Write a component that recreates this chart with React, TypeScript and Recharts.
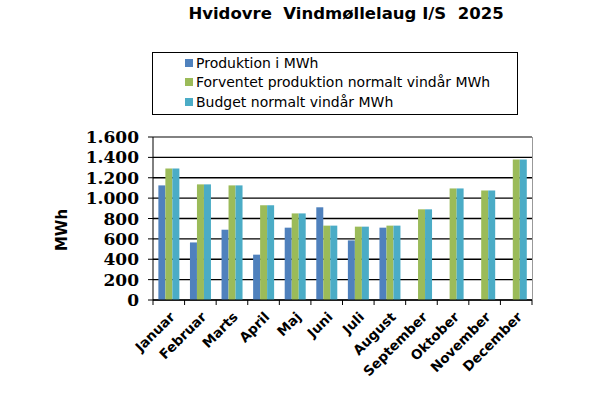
import React from "react";
import { BarChart, Bar, XAxis, YAxis, CartesianGrid, ReferenceLine } from "recharts";

const months = ["Januar", "Februar", "Marts", "April", "Maj", "Juni", "Juli", "August", "September", "Oktober", "November", "December"];
const produktion = [1125, 565, 690, 445, 710, 910, 585, 710, null, null, null, null];
const forventet = [1290, 1135, 1125, 930, 850, 730, 720, 730, 890, 1095, 1075, 1380];
const budget = [1290, 1135, 1125, 930, 850, 730, 720, 730, 890, 1095, 1075, 1380];
const yTicks = [0, 200, 400, 600, 800, 1000, 1200, 1400, 1600];

const seriesNames = ["Produktion i MWh", "Forventet produktion normalt vindår MWh", "Budget normalt vindår MWh"];
const colors = ["#4F81BD", "#9BBB59", "#4BACC6"];

const data = months.map((m, i) => ({ month: m, produktion: produktion[i], forventet: forventet[i], budget: budget[i] }));

const W = 612;
const H = 397;
const PLOT_LEFT = 153;
const PLOT_RIGHT = 532;
const PLOT_TOP = 137;
const PLOT_BOTTOM = 300;
const BAND = (PLOT_RIGHT - PLOT_LEFT) / months.length;

const fmt = (v: number) => v.toLocaleString("de-DE");

function MonthTick(props: any) {
  const { x, y, payload, index } = props;
  return (
    <g>
      <line x1={x - BAND / 2} x2={x - BAND / 2} y1={y - 8} y2={y - 3} stroke="#000" />
      {index === months.length - 1 && <line x1={x + BAND / 2} x2={x + BAND / 2} y1={y - 8} y2={y - 3} stroke="#000" />}
      <text
        x={x + 4}
        y={y + 7}
        transform={`rotate(-45 ${x + 4} ${y + 7})`}
        textAnchor="end"
        dominantBaseline="middle"
        fontFamily="DejaVu Sans, Verdana, sans-serif"
        fontWeight="bold"
        fontSize={13.5}
        fill="#000"
      >
        {payload.value}
      </text>
    </g>
  );
}

export default function App() {
  return (
    <div style={{ position: "absolute", left: 0, top: 0, width: W, height: H, background: "#fff" }}>
      <div
        style={{
          position: "absolute",
          left: 0,
          width: 692,
          top: 4,
          textAlign: "center",
          fontFamily: "DejaVu Sans, Verdana, sans-serif",
          fontWeight: "bold",
          fontSize: 16.5,
          whiteSpace: "pre",
        }}
      >
        {"Hvidovre  Vindmøllelaug I/S  2025"}
      </div>
      <div
        style={{
          position: "absolute",
          left: 152,
          top: 52,
          width: 366,
          height: 63,
          border: "1px solid #000",
          fontFamily: "DejaVu Sans, Verdana, sans-serif",
          fontSize: 14,
          boxSizing: "border-box",
        }}
      >
        {seriesNames.map((n, i) => (
          <div key={n} style={{ display: "flex", alignItems: "center", height: 19.5, paddingLeft: 32 }}>
            <span style={{ width: 8, height: 8, background: colors[i], marginRight: 3, display: "inline-block" }} />
            <span>{n}</span>
          </div>
        ))}
      </div>
      <div
        style={{
          position: "absolute",
          left: 62,
          top: 230,
          transform: "translate(-50%, -50%) rotate(-90deg)",
          fontFamily: "DejaVu Sans, Verdana, sans-serif",
          fontWeight: "bold",
          fontSize: 15,
        }}
      >
        MWh
      </div>
      <div style={{ position: "absolute", left: 0, top: 0 }}>
        <BarChart
          width={W}
          height={H}
          data={data}
          margin={{ top: PLOT_TOP, right: W - PLOT_RIGHT, bottom: 0, left: PLOT_LEFT - 70 }}
          barCategoryGap="17%"
          barGap={0}
        >
          <CartesianGrid vertical={false} stroke="#000" strokeWidth={1.3} />
          <XAxis
            dataKey="month"
            interval={0}
            tickLine={false}
            axisLine={{ stroke: "#000" }}
            tick={<MonthTick />}
            height={H - PLOT_BOTTOM}
          />
          <YAxis
            width={70}
            domain={[0, 1600]}
            ticks={yTicks}
            interval={0}
            tickFormatter={fmt}
            axisLine={{ stroke: "#000" }}
            tickLine={{ stroke: "#000" }}
            tickSize={5}
            tickMargin={9}
            tick={{ fontFamily: "DejaVu Serif, serif", fontWeight: "bold", fontSize: 17, fill: "#000" }}
          />
          <ReferenceLine y={1600} stroke="#999" strokeWidth={1.3} />
          <Bar dataKey="produktion" fill={colors[0]} isAnimationActive={false} />
          <Bar dataKey="forventet" fill={colors[1]} isAnimationActive={false} />
          <Bar dataKey="budget" fill={colors[2]} isAnimationActive={false} />
        </BarChart>
      </div>
      <div style={{ position: "absolute", left: PLOT_RIGHT, top: PLOT_TOP, width: 0, height: PLOT_BOTTOM - PLOT_TOP, borderLeft: "1.5px solid #999" }} />
    </div>
  );
}
